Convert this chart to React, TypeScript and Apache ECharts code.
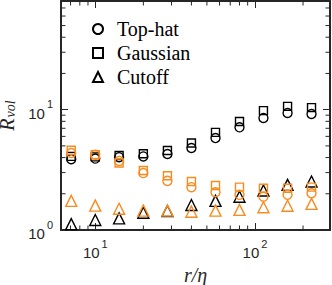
import React, { useEffect, useRef } from 'react';
import * as echarts from 'echarts';

const rEta = [7.07, 10, 14.1, 20, 28.3, 40, 56.6, 80, 113, 160, 226];
const topHatBlack = [3.88, 3.92, 4.03, 4.09, 4.28, 4.8, 5.81, 7.13, 8.53, 9.38, 9.2];
const gaussianBlack = [4.09, 4.05, 4.16, 4.3, 4.58, 5.28, 6.48, 7.98, 9.81, 10.65, 10.4];
const cutoffBlack = [1.12, 1.21, 1.25, 1.39, 1.44, 1.615, 1.745, 1.89, 2.13, 2.37, 2.53];
const topHatOrange = [4.36, 4.22, 3.75, 2.97, 2.56, 2.27, 2.06, 1.96, 1.89, 1.96, 2.02];
const gaussianOrange = [4.6, 4.22, 3.6, 3.12, 2.82, 2.53, 2.34, 2.27, 2.22, 2.22, 2.27];
const cutoffOrange = [1.745, 1.594, 1.5, 1.45, 1.45, 1.42, 1.45, 1.47, 1.545, 1.59, 1.65];

const xMinorTicks = [7, 8, 9, 20, 30, 40, 50, 60, 70, 80, 90, 200];
const yMinorTicks = [2, 3, 4, 5, 6, 7, 8, 9, 20, 30, 40, 50, 60, 70];

const X_MIN = 6.1;
const X_MAX = 295;
const Y_MIN = 1;
const Y_MAX = 80;

const AXIS = '#262626';
const BLACK = '#000000';
const ORANGE = '#f98a1d';
const MAJOR = 7;
const MINOR = 4.5;

const isPow10 = (v: number) => Math.abs(Math.log10(v) - Math.round(Math.log10(v))) < 1e-6;
const powLabel = (v: number) => (isPow10(v) ? `{b|10}{s|${Math.round(Math.log10(v))}}` : '');

const labelRich = {
  b: { fontSize: 15, fontFamily: 'Liberation Sans', color: AXIS, lineHeight: 22, verticalAlign: 'bottom' },
  s: { fontSize: 11, fontFamily: 'Liberation Sans', color: AXIS, verticalAlign: 'top', padding: [0, 0, 0, 2] },
};

const pts = (ys: number[]) => rEta.map((x, i) => [x, ys[i]]);

const scatter = (name: string, ys: number[], color: string, symbol: string, size: number) => ({
  type: 'scatter',
  name,
  data: pts(ys),
  symbol,
  symbolSize: size,
  itemStyle: { color: 'rgba(0,0,0,0)', borderColor: color, borderWidth: 1.4, opacity: 1 },
  emphasis: { disabled: true },
});

export default function App() {
  const ref = useRef<HTMLDivElement>(null);
  useEffect(() => {
    if (!ref.current) return;
    const chart = echarts.init(ref.current, undefined, { renderer: 'svg' });
    const logAxisBase = {
      type: 'log',
      logBase: 10,
      axisLine: { show: true, lineStyle: { color: AXIS, width: 2 } },
      axisTick: { show: true, inside: true, length: MAJOR, lineStyle: { color: AXIS, width: 1 } },
      splitLine: { show: false },
      minorTick: { show: false },
    };
    chart.setOption({
      animation: false,
      grid: { left: 61, right: 2, top: 1, bottom: 55, containLabel: false, outerBoundsMode: 'none' },
      legend: {
        orient: 'vertical',
        left: 87,
        top: 14,
        itemWidth: 10,
        itemHeight: 10,
        itemGap: 4,
        data: ['Top-hat', 'Gaussian', 'Cutoff'],
        textStyle: { fontFamily: 'Liberation Serif', fontSize: 20, color: '#000', lineHeight: 20, padding: [0, 0, 0, 9] },
        selectedMode: false,
      },
      xAxis: [
        {
          ...logAxisBase,
          min: X_MIN,
          max: X_MAX,
          position: 'bottom',
          axisLabel: { formatter: powLabel, rich: labelRich, margin: 8 },
          name: 'r/η',
          nameLocation: 'middle',
          nameGap: 33,
          nameTextStyle: { fontFamily: 'Liberation Serif', fontStyle: 'italic', fontSize: 20, lineHeight: 18, color: AXIS },
        },
        {
          ...logAxisBase,
          min: X_MIN,
          max: X_MAX,
          position: 'top',
          axisLabel: { show: false },
        },
      ],
      yAxis: [
        {
          ...logAxisBase,
          min: Y_MIN,
          max: Y_MAX,
          position: 'left',
          axisLabel: { formatter: powLabel, rich: labelRich, margin: 8 },
          name: '{r|R}{v|vol}',
          nameLocation: 'middle',
          nameGap: 32,
          nameTextStyle: {
            rich: {
              r: { fontFamily: 'Liberation Serif', fontStyle: 'italic', fontSize: 20, color: AXIS, lineHeight: 20, verticalAlign: 'top' },
              v: { fontFamily: 'Liberation Serif', fontStyle: 'italic', fontSize: 14, color: AXIS, lineHeight: 14, verticalAlign: 'bottom', padding: [0, 0, 0, 1] },
            },
          },
        },
        {
          ...logAxisBase,
          min: Y_MIN,
          max: Y_MAX,
          position: 'right',
          axisLabel: { show: false },
        },
      ],
      series: [
        scatter('Top-hat', topHatBlack, BLACK, 'circle', 9),
        scatter('Gaussian', gaussianBlack, BLACK, 'rect', 8),
        scatter('Cutoff', cutoffBlack, BLACK, 'triangle', 11),
        scatter('Top-hat (orange)', topHatOrange, ORANGE, 'circle', 9),
        scatter('Gaussian (orange)', gaussianOrange, ORANGE, 'rect', 8),
        scatter('Cutoff (orange)', cutoffOrange, ORANGE, 'triangle', 11),
        {
          type: 'custom',
          silent: true,
          data: xMinorTicks.map((v) => [v]),
          renderItem: (_p: any, api: any) => {
            const v = api.value(0);
            const b = api.coord([v, Y_MIN]);
            const t = api.coord([v, Y_MAX]);
            const style = { stroke: AXIS, lineWidth: 1 };
            return {
              type: 'group',
              children: [
                { type: 'line', shape: { x1: b[0], y1: b[1], x2: b[0], y2: b[1] - MINOR }, style },
                { type: 'line', shape: { x1: t[0], y1: t[1], x2: t[0], y2: t[1] + MINOR }, style },
              ],
            };
          },
          z: 1,
        },
        {
          type: 'custom',
          silent: true,
          data: yMinorTicks.map((v) => [X_MIN, v]),
          renderItem: (_p: any, api: any) => {
            const v = api.value(1);
            const l = api.coord([X_MIN, v]);
            const r = api.coord([X_MAX, v]);
            const style = { stroke: AXIS, lineWidth: 1 };
            return {
              type: 'group',
              children: [
                { type: 'line', shape: { x1: l[0], y1: l[1], x2: l[0] + MINOR, y2: l[1] }, style },
                { type: 'line', shape: { x1: r[0], y1: r[1], x2: r[0] - MINOR, y2: r[1] }, style },
              ],
            };
          },
          z: 1,
        },
      ],
    });
    return () => chart.dispose();
  }, []);
  return <div ref={ref} style={{ width: 332, height: 285, position: 'absolute', left: 0, top: 0 }} />;
}
